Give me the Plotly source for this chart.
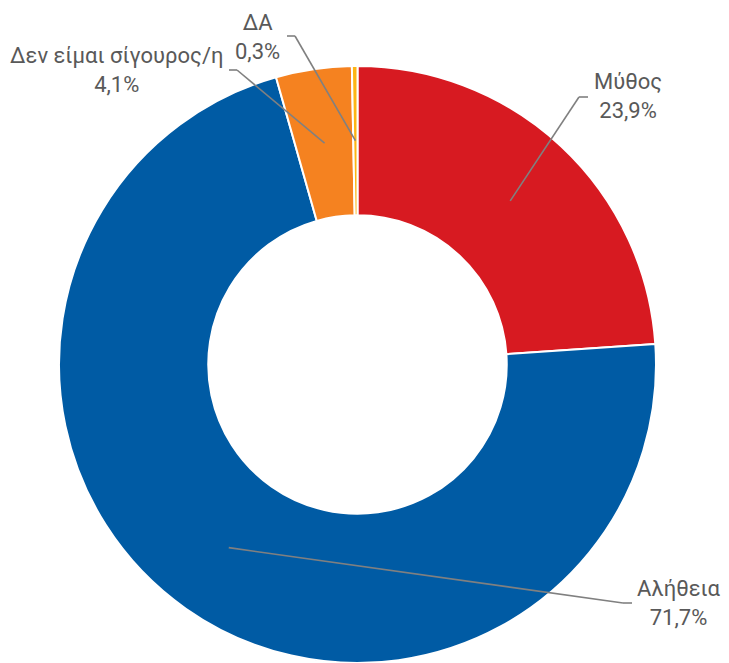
import math
import plotly.graph_objects as go

# ---- data ----
labels = ["Μύθος", "Αλήθεια", "Δεν είμαι σίγουρος/η", "ΔΑ"]
values = [23.9, 71.7, 4.1, 0.3]
value_text = ["23,9%", "71,7%", "4,1%", "0,3%"]
colors = ["#D71A21", "#005BA4", "#F58220", "#FDB515"]

# ---- layout constants (pixels) ----
W, H = 729, 663
dom_h = 597
dom_w = 715
cx = dom_w / 2
cy = H - dom_h / 2
R = dom_h / 2
hole = 0.5
r_mid = R * (1 + hole) / 2

# label placement (block centre, elbow, line end) in pixels
label_pos = [(628, 96), (679, 603), (116, 70), (257, 37)]
elbows = [(579, 97), (623, 603), (237, 70), (295, 36)]
ends = [(588, 97), (632, 603), (229, 70), (287, 36)]


def px(x):
    return x / W


def py(y):
    return 1 - y / H


fig = go.Figure(go.Pie(
    labels=labels,
    values=values,
    hole=hole,
    sort=False,
    direction="clockwise",
    rotation=0,
    textinfo="none",
    hoverinfo="label+percent",
    marker=dict(colors=colors, line=dict(color="white", width=2)),
    domain=dict(x=[0, dom_w / W], y=[0, dom_h / H]),
    showlegend=False,
))

shapes = []
annotations = []
total = sum(values)
cum = 0.0
for i, v in enumerate(values):
    mid = (cum + v / 2) / total * 2 * math.pi
    cum += v
    ax = cx + r_mid * math.sin(mid)
    ay = cy - r_mid * math.cos(mid)
    ex, ey = elbows[i]
    tx, ty = ends[i]
    line = dict(color="#808080", width=1.6)
    shapes.append(dict(type="line", xref="paper", yref="paper",
                       x0=px(ax), y0=py(ay), x1=px(ex), y1=py(ey), line=line))
    shapes.append(dict(type="line", xref="paper", yref="paper",
                       x0=px(ex), y0=py(ey), x1=px(tx), y1=py(ty), line=line))
    lx, ly = label_pos[i]
    annotations.append(dict(
        xref="paper", yref="paper", x=px(lx), y=py(ly),
        xanchor="center", yanchor="middle", showarrow=False,
        text=f"{labels[i]}<br>{value_text[i]}", align="center",
        font=dict(family="Roboto", size=22, color="#595959"),
    ))

fig.update_layout(
    width=W, height=H,
    margin=dict(l=0, r=0, t=0, b=0),
    paper_bgcolor="white",
    plot_bgcolor="white",
    shapes=shapes,
    annotations=annotations,
)

fig.write_html(
    "out.html",
    config={"displayModeBar": False},
    post_script="document.body.style.margin='0';document.body.style.overflow='hidden';",
)
